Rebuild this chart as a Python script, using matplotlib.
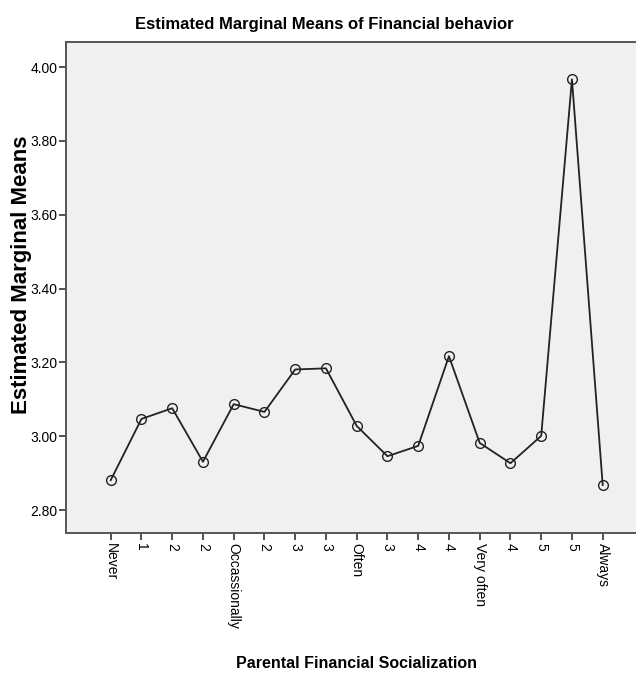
import matplotlib
matplotlib.use('Agg')
import matplotlib.pyplot as plt

# categories along the x axis and the estimated means
categories = ['Never', '1', '2', '2', 'Occassionally', '2', '3', '3', 'Often',
              '3', '4', '4', 'Very often', '4', '5', '5', 'Always']
means = [2.881, 3.047, 3.076, 2.931, 3.087, 3.066, 3.181, 3.184, 3.028,
         2.946, 2.974, 3.217, 2.982, 2.927, 3.001, 3.967, 2.868]
yticks = [2.80, 3.00, 3.20, 3.40, 3.60, 3.80, 4.00]

narrow = ['Liberation Sans Narrow', 'Liberation Sans', 'DejaVu Sans']

fig = plt.figure(figsize=(6.36, 6.73), dpi=100)
ax = fig.add_axes([66 / 636, 1 - 533 / 673, 1 - 66 / 636 + 0.01, (533 - 42) / 673])
ax.set_facecolor('#f0f0f0')

x = list(range(len(categories)))
ax.plot(x, means, color='#222222', linewidth=1.3, marker='o', markersize=7,
        markerfacecolor='none', markeredgecolor='#222222', markeredgewidth=1.0)

ax.set_xlim(-1.454, 17.29)
ax.set_ylim(2.738, 4.068)

ax.set_yticks(yticks)
ax.set_yticklabels(['%.2f' % v for v in yticks], family=narrow, fontsize=10)
ax.set_xticks(x)
ax.set_xticklabels(categories, rotation=270, family=narrow, fontsize=10,
                   va='top', ha='center')
ax.tick_params(axis='both', direction='out', length=5, width=1.2, color='#333333')
ax.tick_params(axis='x', pad=2)
ax.tick_params(axis='y', pad=1)

for side in ['left', 'bottom', 'top', 'right']:
    ax.spines[side].set_color('#555555')
    ax.spines[side].set_linewidth(1.4)

fig.text(324 / 636, 1 - 24 / 673, 'Estimated Marginal Means of Financial behavior',
         ha='center', va='center', family=narrow, fontweight='bold', fontsize=12)
fig.text(22 / 636, 1 - 275 / 673, 'Estimated Marginal Means', rotation=90,
         ha='center', va='center', family=['Liberation Sans', 'DejaVu Sans'],
         fontweight='bold', fontsize=16)
fig.text(357 / 636, 1 - 663 / 673, 'Parental Financial Socialization',
         ha='center', va='center', family=narrow, fontweight='bold', fontsize=11.5)

fig.savefig('out.png', dpi=100)
